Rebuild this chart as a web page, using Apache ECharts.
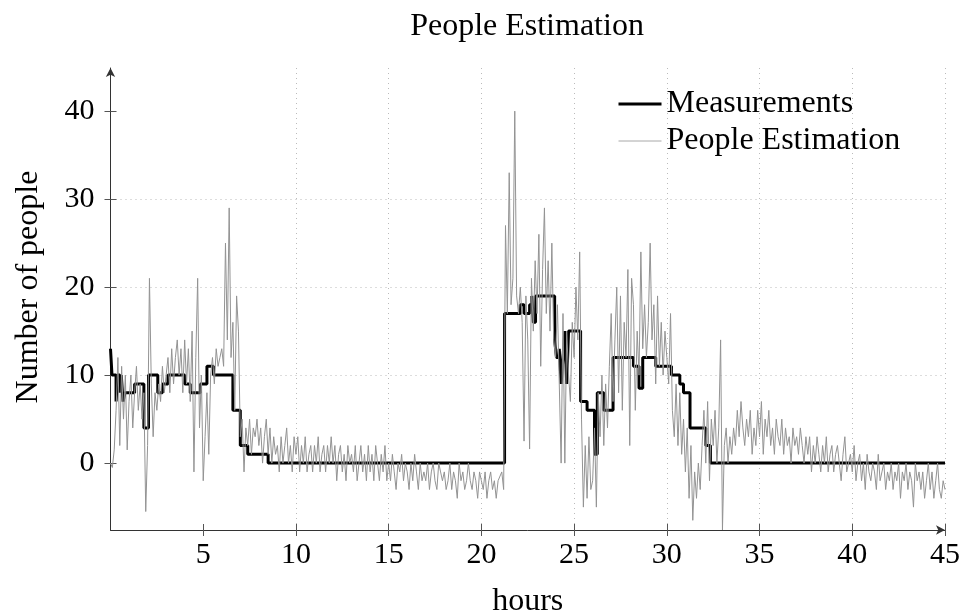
<!DOCTYPE html>
<html>
<head>
<meta charset="utf-8">
<title>People Estimation</title>
<script src="https://cdn.jsdelivr.net/npm/echarts@6/dist/echarts.min.js"></script>
<style>
  html, body { margin: 0; padding: 0; background: #fff; }
  #chart { width: 960px; height: 614px; }
</style>
</head>
<body>
<div id="chart"></div>
<script>
// measured people count, step function: value holds from hour until next hour
const measHours = [0, 0.08, 0.3, 0.38, 0.5, 0.58, 0.68, 0.78, 1.3, 1.8, 2.05, 2.55, 2.8, 3.1,
  4.0, 4.3, 4.85, 5.2, 5.55, 6.6, 7.0, 7.4, 8.5, 21.25, 22.1, 22.3, 22.6, 22.72, 22.8, 22.92,
  23.95, 24.05, 24.2, 24.3, 24.4, 24.5, 24.6, 24.7, 25.35, 25.7, 26.1, 26.25, 26.6, 27.1,
  28.2, 28.5, 28.7, 29.4, 30.25, 30.7, 30.9, 31.25, 32.1, 32.35, 45];
const measValues = [13, 10, 7, 10, 8, 10, 7, 8, 9, 4, 10, 8, 9, 10,
  9, 8, 9, 11, 10, 6, 2, 1, 0, 17, 18, 17, 18, 19, 16, 19,
  14, 12, 13, 9, 12, 15, 9, 15, 7, 6, 1, 8, 6, 12,
  11, 8.5, 12, 11, 10, 9, 8, 4, 2, 0, 0];

// estimated people count, one sample every 0.1 h starting at 0 h
const estStart = 0;
const estStep = 0.1;
const estValues = [
  0, -0.5, 1.5, 6, 12, 2, 11, 5, 10, 1.5,      // 0 h
  7, 10, 4, 8, 11, 6, 9, 5, 8, -5.5,           // 1 h
  2, 21, 9, 3, 8, 6, 9, 7, 11, 8,              // 2 h
  10, 12, 8, 13, 9, 12, 14, 10, 13, 8,         // 3 h
  14, 9, 13, 7, 15, -1, 12, 21, 4, 10,         // 4 h
  -2, 3, 8, 1, 10, 12, 9, 13, 11, 12,          // 5 h
  13, 11, 25, 14, 29, 12, 16, 6, 19, 15,       // 6 h
  3, 5, -1, 4, 2, 5, 1, 4, 3, 5,               // 7 h
  2, 4, 0, 3, 5, 1, 4, 0, 3, 1,                // 8 h
  2, -1, 3, 0, 2, 4, 0, 2, -1, 3,              // 9 h
  1, 3, -1, 2, 0, 3, -1, 1, 2, -1,             // 10 h
  2, 0, 3, -1, 1, 2, -1, 2, 0, 3,              // 11 h
  0, 2, -2, 1, 2, -1, 1, -2, 2, 0,             // 12 h
  1, -1, 2, -2, 0, 2, -1, 1, -2, 2,            // 13 h
  -1, 1, -2, 2, 0, -2, 1, -1, 2, -2,           // 14 h
  0, -2, 1, -1, -3, 0, -1, 1, -2, 0,           // 15 h
  -1, -3, 0, -2, 1, -1, -3, 0, -2, -1,         // 16 h
  -2, 0, -3, -1, 0, -2, -3, 0, -1, -2,         // 17 h
  -1, -3, -2, 0, -3, -1, -2, -4, 0, -2,        // 18 h
  -1, -3, -2, 0, -2, -3, -1, -2, -4, -1,       // 19 h
  -2, -3, -1, -4, -2, -1, -3, -2, -4, -2,      // 20 h
  -2, -1, -3, 27, 17, 33, 18, 21, 40, 19,      // 21 h
  17, 20, 16, 2.5, 19, 14, 1.6, 21, 15, 23,    // 22 h
  17, 26, 11, 22, 29, 17, 23, 15, 25, 14,      // 23 h
  12, 18, 9, 0, 17, 0, 15, 10, 7, 16,          // 24 h
  12, 20, 14, 24, 5, -5, 2, -4, 3, -3,         // 25 h
  -2, 4, -5, 8, 3, 10, 2, 9, 4, 11,            // 26 h
  17, 7, 14, 20, 8, 19, 6, 16, 12, 22,         // 27 h
  2, 21, 18, 6, 15, 10, 24, 13, 18, 12,        // 28 h
  16, 25, 14, 18, 9, 19, 11, 16, 10, 15,       // 29 h
  12, 9, 17, 6, 3, 9, 2, 8, 1, 5,              // 30 h
  -1, 4, -4, 2, -6.5, -1, -4, 0, -3, 2,        // 31 h
  6, 0, 7, -2, 5, 2, 6, 0, 4, 14,              // 32 h
  -7.6, 2, 4, 0, 3, 1, 4, 2, 6, 3,             // 33 h
  7, 4, 2, 5, 3, 6, 1, 4, 2, 6,                // 34 h
  3, 7, 1, 5, 3, 6, 2, 4, 1, 5,                // 35 h
  3, 2, 5, 1, 4, 2, 3, 0, 4, 2,                // 36 h
  3, 1, 4, 2, 0, 3, 1, 3, -1, 2,               // 37 h
  0, 3, 1, -1, 2, 0, 3, -1, 1, 2,              // 38 h
  -1, 1, 2, 0, -2, 1, 3, -1, 0, 1,             // 39 h
  -1, 2, -2, 0, 1, -2, 0, -3, 1, -1,           // 40 h
  -2, 0, -1, -3, 1, -2, -1, 0, -3, -1,         // 41 h
  -2, 0, -3, -1, -2, 0, -4, -1, -2, 0,         // 42 h
  -3, -1, -2, -5, 0, -2, -1, -3, -1, -4,       // 43 h
  -2, 0, -3, -1, -4, -2, 0, -3, -4, -2,        // 44 h
  -3                                           // 45 h
];

const xTicks = [5, 10, 15, 20, 25, 30, 35, 40, 45];
const yTicks = [0, 10, 20, 30, 40];

const font = "'Liberation Serif', 'DejaVu Serif', serif";
const numStyle = { fontFamily: font, fontSize: 30, color: '#000' };
const wordStyle = { fontFamily: font, fontSize: 32, color: '#000' };

const measData = measHours.map((h, i) => [h, measValues[i]]);
const estData = estValues.map((v, i) => [+(estStart + i * estStep).toFixed(2), v]);

const axisLine = {
  show: true,
  onZero: false,
  symbol: ['none', 'arrow'],
  symbolSize: [7, 9],
  lineStyle: { color: '#333', width: 1 }
};
const gridLine = { type: [1, 4], color: '#bbb', width: 1 };

const chart = echarts.init(document.getElementById('chart'));
chart.setOption({
  animation: false,
  backgroundColor: '#fff',
  graphic: [{
    type: 'text',
    x: 527, y: 27,
    style: {
      text: 'People Estimation',
      align: 'center', verticalAlign: 'middle',
      font: '32px ' + font, fill: '#000'
    }
  }],
  legend: {
    orient: 'vertical',
    left: 612,
    top: 83,
    itemWidth: 43,
    itemHeight: 14,
    itemGap: 5,
    itemStyle: { opacity: 0 },
    textStyle: Object.assign({ lineHeight: 32 }, wordStyle),
    data: [
      { name: 'Measurements', lineStyle: { width: 3, color: '#000' } },
      { name: 'People Estimation', lineStyle: { width: 1, color: '#a8a8a8' } }
    ]
  },
  grid: { left: 110.5, right: 15, top: 68, bottom: 84, outerBoundsMode: 'none' },
  xAxis: [{
    type: 'value',
    min: 0,
    max: 45,
    interval: 5,
    name: 'hours',
    nameLocation: 'middle',
    nameGap: 56,
    nameTextStyle: wordStyle,
    axisLine: axisLine,
    axisTick: { show: true, length: 6, customValues: xTicks, lineStyle: { color: '#555' } },
    axisLabel: Object.assign({ customValues: xTicks, margin: 10 }, numStyle),
    splitLine: { show: true, showMinLine: false, lineStyle: gridLine }
  }, {
    // inward half of the crossing tick marks
    type: 'value', min: 0, max: 45, interval: 5, position: 'bottom',
    axisLine: { show: false, onZero: false },
    axisTick: { show: true, inside: true, length: 6, customValues: xTicks, lineStyle: { color: '#555' } },
    axisLabel: { show: false },
    splitLine: { show: false }
  }],
  yAxis: [{
    type: 'value',
    min: -7.6,
    max: 44.9,
    name: 'Number of people',
    nameLocation: 'middle',
    nameGap: 66,
    nameTextStyle: Object.assign({ padding: [0, 0, 0, 24] }, wordStyle),
    axisLine: axisLine,
    axisTick: { show: true, length: 6, customValues: yTicks, lineStyle: { color: '#555' } },
    axisLabel: Object.assign({ customValues: yTicks, margin: 16 }, numStyle),
    splitLine: { show: true, showMinLine: false, showMaxLine: false, lineStyle: gridLine }
  }, {
    type: 'value', min: -7.6, max: 44.9, position: 'left',
    axisLine: { show: false, onZero: false },
    axisTick: { show: true, inside: true, length: 6, customValues: yTicks, lineStyle: { color: '#555' } },
    axisLabel: { show: false },
    splitLine: { show: false }
  }],
  series: [
    {
      name: 'Measurements',
      type: 'line',
      step: 'end',
      data: measData,
      symbol: 'none',
      itemStyle: { color: '#000' },
      lineStyle: { color: '#000', width: 3 },
      z: 2
    },
    {
      name: 'People Estimation',
      type: 'line',
      data: estData,
      symbol: 'none',
      itemStyle: { color: '#939393' },
      lineStyle: { color: '#939393', width: 1 },
      z: 3
    }
  ]
});
</script>
</body>
</html>
